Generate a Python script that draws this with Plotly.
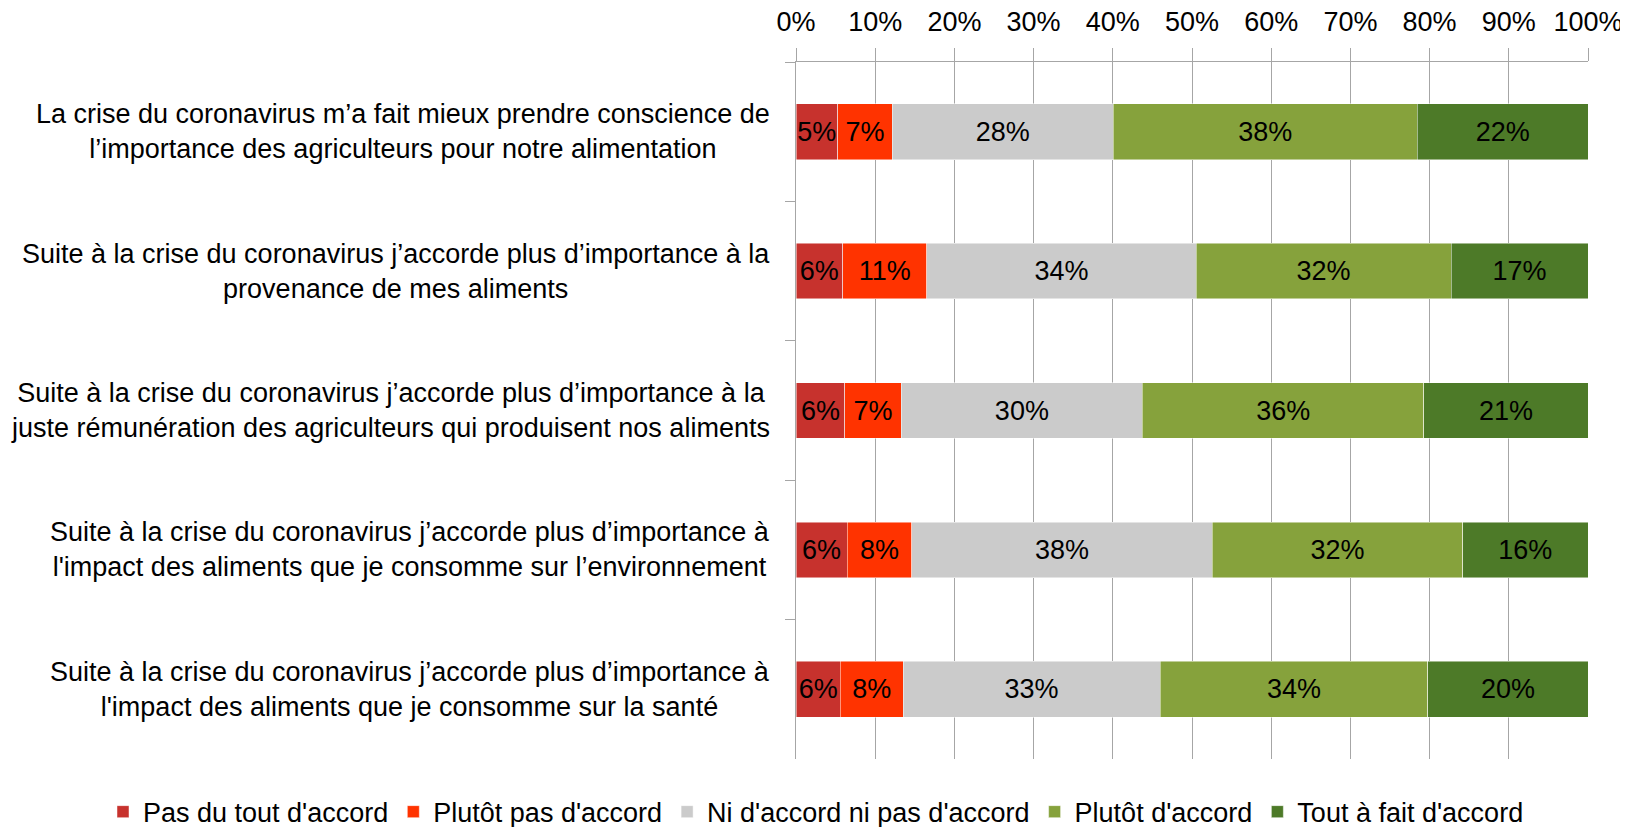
import plotly.graph_objects as go

questions = [
    "La crise du coronavirus m’a fait mieux prendre conscience de<br>l’importance des agriculteurs pour notre alimentation",
    "Suite à la crise du coronavirus j’accorde plus d’importance à la<br>provenance de mes aliments",
    "Suite à la crise du coronavirus j’accorde plus d’importance à la<br>juste rémunération des agriculteurs qui produisent nos aliments",
    "Suite à la crise du coronavirus j’accorde plus d’importance à<br>l'impact des aliments que je consomme sur l’environnement",
    "Suite à la crise du coronavirus j’accorde plus d’importance à<br>l'impact des aliments que je consomme sur la santé",
]
row_ids = ["q1", "q2", "q3", "q4", "q5"]

series_names = [
    "Pas du tout d'accord",
    "Plutôt pas d'accord",
    "Ni d'accord ni pas d'accord",
    "Plutôt d'accord",
    "Tout à fait d'accord",
]
colors = ["#C7322D", "#FF3300", "#CBCBCB", "#86A23C", "#4D7A28"]

pas_du_tout = [5.25, 5.88, 6.16, 6.44, 5.60]
plutot_pas = [6.93, 10.63, 7.14, 8.19, 7.91]
ni_ni = [27.85, 34.01, 30.44, 37.92, 32.47]
plutot = [38.42, 32.19, 35.55, 31.63, 33.80]
tout_a_fait = [21.55, 17.29, 20.71, 15.82, 20.22]

labels_pas_du_tout = ["5%", "6%", "6%", "6%", "6%"]
labels_plutot_pas = ["7%", "11%", "7%", "8%", "8%"]
labels_ni_ni = ["28%", "34%", "30%", "38%", "33%"]
labels_plutot = ["38%", "32%", "36%", "32%", "34%"]
labels_tout_a_fait = ["22%", "17%", "21%", "16%", "20%"]

values = [pas_du_tout, plutot_pas, ni_ni, plutot, tout_a_fait]
labels = [labels_pas_du_tout, labels_plutot_pas, labels_ni_ni, labels_plutot, labels_tout_a_fait]

FONT = "Liberation Sans, Arial, Helvetica, sans-serif"
FS = 27

fig = go.Figure()
for name, col, vals, txt in zip(series_names, colors, values, labels):
    fig.add_trace(go.Bar(
        y=row_ids, x=vals, name=name, orientation="h",
        marker=dict(color=col, line=dict(color="rgba(255,255,255,0.6)", width=0.8)),
        text=txt, textposition="inside", insidetextanchor="middle",
        constraintext="none", textangle=0,
        textfont=dict(color="black", size=FS, family=FONT),
        hoverinfo="name+x",
    ))

# question labels: centred lines, block right-aligned next to the axis
for rid, q in zip(row_ids, questions):
    fig.add_annotation(
        x=0, xref="paper", xshift=-24, xanchor="right",
        y=rid, yref="y", yanchor="middle",
        text=q, align="center", showarrow=False,
        font=dict(size=FS, color="black", family=FONT),
    )

# page body adds an 8px offset, so the figure is a bit smaller than the window
fig.update_layout(
    width=1620, height=819,
    barmode="stack", bargap=0.6,
    plot_bgcolor="white", paper_bgcolor="white",
    margin=dict(l=788, r=40, t=54, b=68, autoexpand=False),
    font=dict(family=FONT, size=FS, color="black"),
    legend=dict(
        orientation="h", x=-0.875, xref="paper", xanchor="left",
        y=-0.041, yref="paper", yanchor="top",
        font=dict(size=FS, family=FONT), traceorder="normal",
        itemwidth=30,
    ),
    showlegend=True,
)
fig.update_xaxes(
    side="top", range=[0, 100], dtick=10, ticksuffix="%",
    showgrid=True, gridcolor="#A6A6A6", gridwidth=1,
    showline=True, linecolor="#A6A6A6", linewidth=1,
    ticks="outside", ticklen=13, tickcolor="#A6A6A6",
    ticklabelstandoff=6,
    tickfont=dict(size=FS, color="black", family=FONT),
    zeroline=False, fixedrange=True,
)
fig.update_yaxes(
    categoryorder="array", categoryarray=row_ids, autorange="reversed",
    showticklabels=False, tickson="boundaries",
    ticks="outside", ticklen=10, tickcolor="#A6A6A6",
    showline=True, linecolor="#A6A6A6", linewidth=1,
    showgrid=False, zeroline=False, fixedrange=True,
)

fig.write_html("out.html")
